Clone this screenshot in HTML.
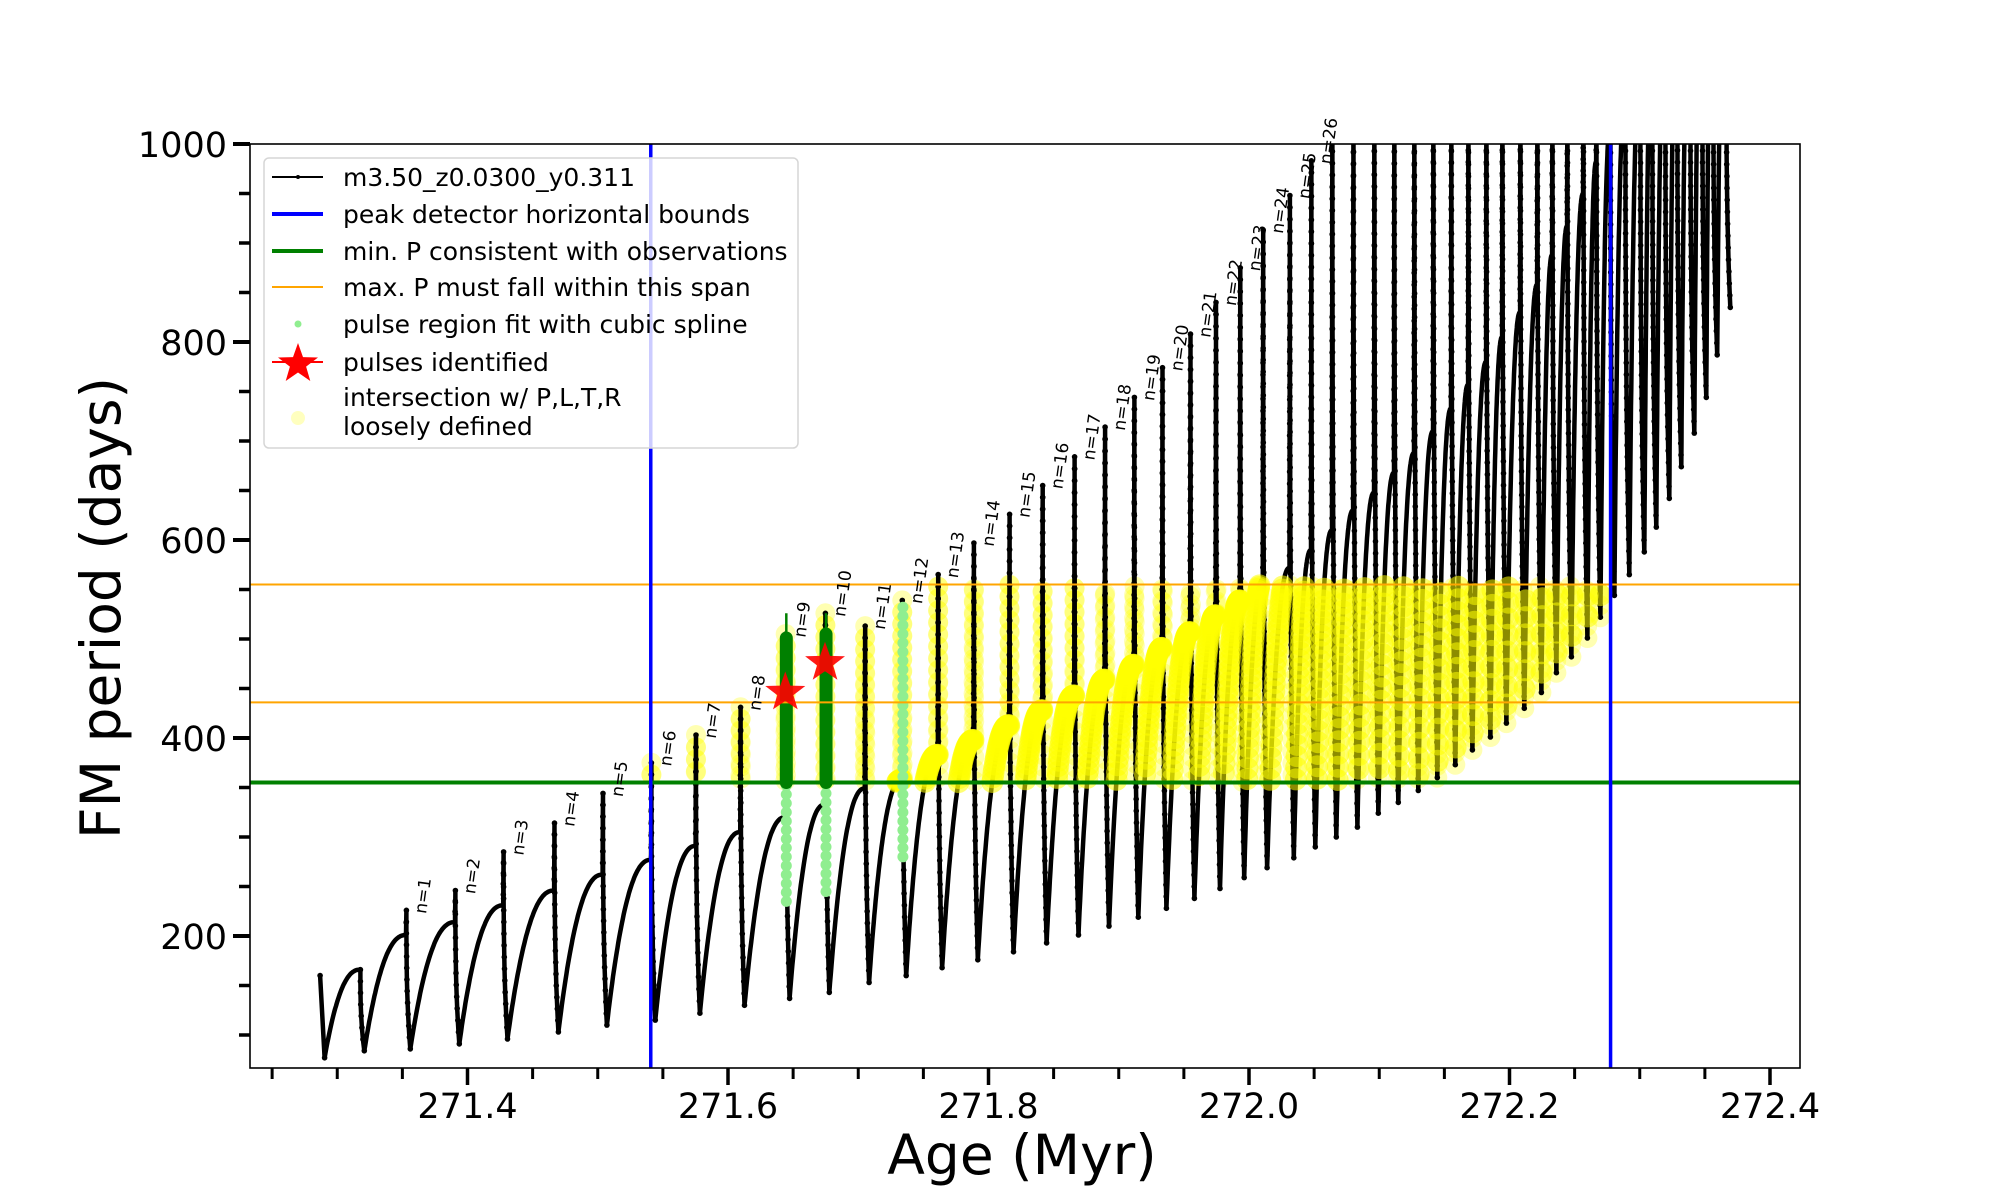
<!DOCTYPE html>
<html><head><meta charset="utf-8">
<style>
html,body{margin:0;padding:0;background:#fff;}
svg{display:block;font-family:"DejaVu Sans","Liberation Sans",sans-serif;}
</style></head>
<body>
<svg id="chart" width="2000" height="1200" viewBox="0 0 2000 1200" xmlns="http://www.w3.org/2000/svg">
<defs><clipPath id="plotclip"><rect x="250" y="144" width="1550" height="924"/></clipPath></defs>
<rect x="0" y="0" width="2000" height="1200" fill="#fff"/>
<g id="plot" clip-path="url(#plotclip)"></g>
<g id="overlay"></g>
<rect x="250" y="144" width="1550" height="924" fill="none" stroke="#000" stroke-width="1.6"/>
<g id="axes"></g>
<text x="1022" y="1174" font-size="55" text-anchor="middle">Age (Myr)</text>
<text x="0" y="0" font-size="55" text-anchor="middle" transform="translate(120,608) rotate(-90)">FM period (days)</text>
<g id="legend">
  <rect x="264" y="158" width="534" height="290" rx="5" fill="#fff" fill-opacity="0.8" stroke="#d6d6d6" stroke-width="1.5"/>
  <g>
    <line x1="272" y1="177" x2="323" y2="177" stroke="#000" stroke-width="2"/><circle cx="298" cy="177" r="2" fill="#000"/>
    <text x="343" y="186" font-size="25">m3.50_z0.0300_y0.311</text></g>
  <g>
    <line x1="272" y1="214" x2="323" y2="214" stroke="#0000ff" stroke-width="4"/>
    <text x="343" y="223" font-size="25">peak detector horizontal bounds</text></g>
  <g>
    <line x1="272" y1="251" x2="323" y2="251" stroke="#008000" stroke-width="4"/>
    <text x="343" y="260" font-size="25">min. P consistent with observations</text></g>
  <g>
    <line x1="272" y1="287" x2="323" y2="287" stroke="#ffa500" stroke-width="2"/>
    <text x="343" y="296" font-size="25">max. P must fall within this span</text></g>
  <g>
    <circle cx="298" cy="324" r="3.5" fill="#90ee90"/>
    <text x="343" y="333" font-size="25">pulse region fit with cubic spline</text></g>
  <g>
    <line x1="272" y1="362" x2="323" y2="362" stroke="#ff0000" stroke-width="2"/>
    <path id="legstar" fill="#ff0000"/>
    <text x="343" y="371" font-size="25">pulses identified</text></g>
  <g>
    <circle cx="298" cy="418" r="7" fill="#ffff80" fill-opacity="0.5"/>
    <text x="343" y="406" font-size="25">intersection w/ P,L,T,R</text>
    <text x="343" y="435" font-size="25">loosely defined</text></g>
</g>
<script>
// ---- data ----
const startAge = 271.2868;
const startP = 160;
const firstTrough = 77;
const pulseAge = [271.3175,271.3528,271.3904,271.4274,271.4665,271.5037,271.5409,271.5751,271.6094,271.6440,271.6745,271.7050,271.7335,271.7611,271.7885,271.8159,271.8413,271.8658,271.8892,271.9117,271.9333,271.9548,271.9744,271.9930,272.0106,272.0311,272.0476,
272.0637,272.0799,272.0960,272.1113,272.1267,272.1413,272.1551,272.1682,272.1820,272.1943,272.2081,272.2212,272.2327,272.2442,272.2565,272.2665,272.2772,
272.2887,272.3002,272.3094,272.3194,272.3286,272.3386,272.3478,272.3562,272.3662];
const plateauP = [166,201,214,231,246,262,277,291,305,320,333,349,358,383,398,413,428,443,459,474,491,507,524,539,560,572,590,
610,630,648,668,688,710,733,757,780,805,830,858,888,917,950,982,1015,
1050,1080,1110,1140,1170,1200,1230,1260,1290];
const peakP = [166,226,246,285,314,344,375,403,431,505,526,513,539,565,597,626,655,684,714,744,774,808,840,875,913,948,983,
1100,1100,1100,1100,1100,1100,1100,1100,1100,1100,1100,1100,1100,1100,1100,1100,1100,
1100,1100,1100,1100,1100,1100,1100,1100,1100];
const troughP = [84,86,91,96,103,110,115,122,130,137,143,153,160,168,176,184,193,201,210,219,228,238,248,259,269,279,290,
300,310,324,335,347,360,373,388,401,415,430,446,466,482,501,522,544,
565,588,613,642,674,708,744,787,835];
const pulseLabels = ["","n=1","n=2","n=3","n=4","n=5","n=6","n=7","n=8","n=9","n=10","n=11","n=12","n=13","n=14","n=15","n=16","n=17","n=18","n=19","n=20","n=21","n=22","n=23","n=24","n=25","n=26"];
const boundAges = [271.5407, 272.2776];
const minP = 355;
const maxPSpan = [436, 555];
const starAges = [271.6440, 271.6745];
const starP = [446, 476];
const splineIdx = [9, 10, 12];
const splineLow = [235, 245, 280];
const splineHigh = [355, 355, 535];
const darkGreenIdx = [9, 10];
const darkGreenTop = [501, 505];
const darkGreenThin = [526, 526];
const xTickLabels = ["271.4","271.6","271.8","272.0","272.2","272.4"];
const xTickVals = [271.4,271.6,271.8,272.0,272.2,272.4];
const yTickVals = [200,400,600,800,1000];
const yTickLabels = ["200","400","600","800","1000"];

// ---- axes ----
const X = a => 467.5 + (a - 271.4) * 1302.5;
const Y = v => 144 + (1000 - v) * 0.99;
const NS = "http://www.w3.org/2000/svg";
function mk(tag, attrs, parent){const e=document.createElementNS(NS,tag);for(const k in attrs)e.setAttribute(k,attrs[k]);parent.appendChild(e);return e;}
const plot = document.getElementById('plot');
const overlay = document.getElementById('overlay');
const axes = document.getElementById('axes');

const track = [];
track.push([startAge, startP, 1]);
track.push([startAge + 0.0035, firstTrough, 1]);
let prevAge = startAge + 0.0035, prevP = firstTrough;
for (let i = 0; i < pulseAge.length; i++) {
  const t = pulseAge[i];
  const n = 50;
  for (let k = 1; k <= n; k++) {
    const s = k / n;
    const f = 1 - Math.pow(1 - s, 2.3);
    track.push([prevAge + (t - prevAge) * s, prevP + (plateauP[i] - prevP) * f, 0]);
  }
  const pk = peakP[i], tr = troughP[i];
  const up = Math.max(2, Math.round((pk - plateauP[i]) / 12));
  for (let k = 1; k <= up; k++) track.push([t + 0.0003 * k / up, plateauP[i] + (pk - plateauP[i]) * k / up, 1]);
  const dn = Math.max(3, Math.round((pk - tr) / 12));
  for (let k = 1; k <= dn; k++) { const s = k / dn; track.push([t + 0.0003 + 0.003 * Math.pow(s, 3), pk + (tr - pk) * s, 1]); }
  prevAge = t + 0.0033; prevP = tr;
}
const inSpan = p => p[1] >= minP && p[1] <= maxPSpan[1] && p[0] >= boundAges[0] && p[0] <= boundAges[1];

const yel = mk('g', {}, plot);


for (const p of track) {
  if (p[2] && inSpan(p)) mk('circle', {cx: X(p[0]).toFixed(1), cy: Y(p[1]).toFixed(1), r: 10, fill: '#ffff00', 'fill-opacity': 0.3}, yel);
}

const pts = track.map(p => X(p[0]).toFixed(1) + ',' + Y(p[1]).toFixed(1)).join(' ');
const line = mk('polyline', {points: pts, fill: 'none', stroke: '#000', 'stroke-width': 4.5, 'stroke-linejoin': 'round'}, plot);


const dots = mk('g', {fill: '#000'}, plot);


for (const p of track) if (p[2]) mk('circle', {cx: X(p[0]).toFixed(1), cy: Y(p[1]).toFixed(1), r: 2.8}, dots);

const yel2 = mk('g', {}, plot);


for (const p of track) {
  if (!p[2] && inSpan(p)) mk('circle', {cx: X(p[0]).toFixed(1), cy: Y(p[1]).toFixed(1), r: 11, fill: '#ffff00', 'fill-opacity': 0.55}, yel2);
}

for (let j = 0; j < splineIdx.length; j++) {
  const g = mk('g', {fill: '#90ee90'}, plot);
  
  
  const xa = X(pulseAge[splineIdx[j]]) + 1;
  for (let v = splineLow[j]; v <= splineHigh[j]; v += 9) mk('circle', {cx: xa.toFixed(1), cy: Y(v).toFixed(1), r: 5.5}, g);
}
for (let j = 0; j < darkGreenIdx.length; j++) {
  const xa = X(pulseAge[darkGreenIdx[j]]) + 1;
  const g = mk('g', {}, plot);
  
  
  mk('line', {x1: xa, x2: xa, y1: Y(minP), y2: Y(darkGreenThin[j]), stroke: '#008000', 'stroke-width': 2.5}, g);
  mk('line', {x1: xa, x2: xa, y1: Y(minP), y2: Y(darkGreenTop[j]), stroke: '#008000', 'stroke-width': 13, 'stroke-linecap': 'round'}, g);
}

const gl = mk('line', {x1: 250, x2: 1800, y1: Y(minP), y2: Y(minP), stroke: '#008000', 'stroke-width': 4}, plot);


for (let j = 0; j < maxPSpan.length; j++) {
  const o = mk('line', {x1: 250, x2: 1800, y1: Y(maxPSpan[j]), y2: Y(maxPSpan[j]), stroke: '#ffa500', 'stroke-width': 2}, plot);
  
  
}
for (let j = 0; j < boundAges.length; j++) {
  const b = mk('line', {x1: X(boundAges[j]), x2: X(boundAges[j]), y1: 144, y2: 1068, stroke: '#0000ff', 'stroke-width': 3.5}, plot);
  
  
}

function starPath(cx, cy, R, r){let d='';for(let k=0;k<10;k++){const a=-Math.PI/2+k*Math.PI/5;const rr=k%2?r:R;d+=(k?'L':'M')+(cx+rr*Math.cos(a)).toFixed(1)+','+(cy+rr*Math.sin(a)).toFixed(1);}return d+'Z';}
for (let j = 0; j < starAges.length; j++) {
  const s = mk('path', {d: starPath(X(starAges[j]), Y(starP[j]), 21, 8.5), fill: '#ff0000', 'fill-opacity': 0.9}, overlay);
  
  
}
document.getElementById('legstar').setAttribute('d', starPath(298, 364, 21, 8.5));

for (let i = 1; i < pulseLabels.length; i++) {
  const v = Math.min(peakP[i], 1000);
  const tx = X(pulseAge[i]) + 20, ty = Y(v) + 4;
  const t = mk('text', {x: 0, y: 0, 'font-size': 17, transform: `translate(${tx.toFixed(1)},${ty.toFixed(1)}) rotate(-82)`}, overlay);
  t.textContent = pulseLabels[i];
  
  
}

for (let j = 0; j < xTickVals.length; j++) {
  const x = X(xTickVals[j]);
  mk('line', {x1: x, x2: x, y1: 1068, y2: 1085, stroke: '#000', 'stroke-width': 3.5}, axes);
  const t = mk('text', {x: x, y: 1118, 'font-size': 35, 'text-anchor': 'middle'}, axes);
  t.textContent = xTickLabels[j];
  
  
}
for (let k = 0; k <= 23; k++) {
  const a = 271.25 + k * 0.05;
  if (Math.abs((a - 271.4) / 0.2 - Math.round((a - 271.4) / 0.2)) < 1e-6) continue;
  const x = X(a);
  mk('line', {x1: x, x2: x, y1: 1068, y2: 1079, stroke: '#000', 'stroke-width': 3}, axes);
}
for (let j = 0; j < yTickVals.length; j++) {
  const y = Y(yTickVals[j]);
  mk('line', {x1: 233, x2: 250, y1: y, y2: y, stroke: '#000', 'stroke-width': 4}, axes);
  const t = mk('text', {x: 227, y: y + 13, 'font-size': 35, 'text-anchor': 'end'}, axes);
  t.textContent = yTickLabels[j];
  
  
}
for (let v = 100; v <= 1000; v += 50) {
  if (v % 200 === 0) continue;
  const y = Y(v);
  mk('line', {x1: 239, x2: 250, y1: y, y2: y, stroke: '#000', 'stroke-width': 3.5}, axes);
}
</script>
</svg>
</body></html>
